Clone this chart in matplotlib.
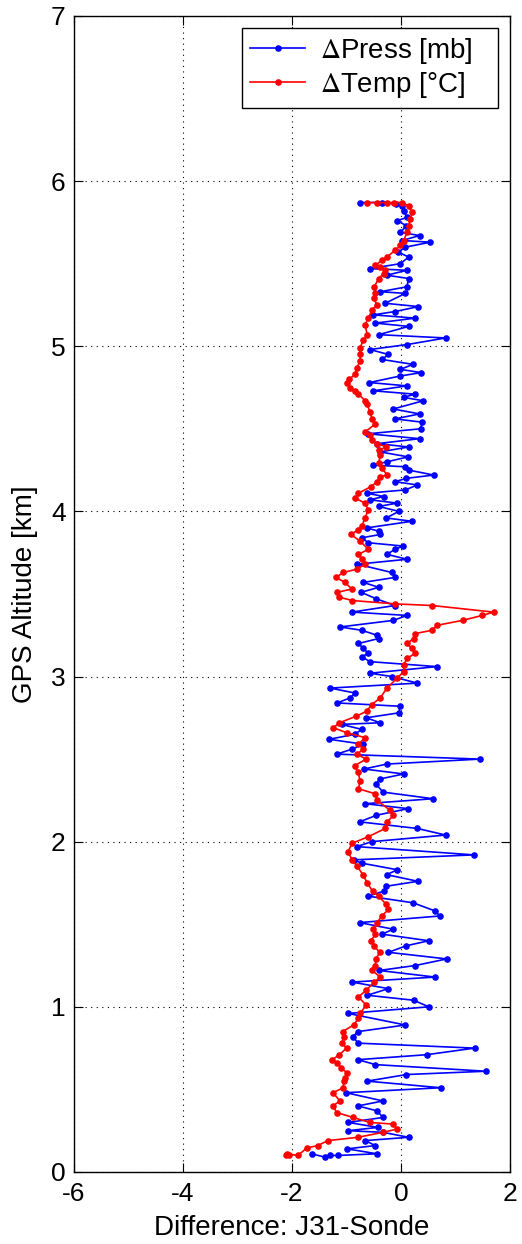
import matplotlib
matplotlib.use('Agg')
import matplotlib.pyplot as plt
import numpy as np

plt.rcParams['font.family'] = ['Liberation Sans', 'DejaVu Sans']
plt.rcParams['axes.unicode_minus'] = False
plt.rcParams['mathtext.fontset'] = 'stix'

# pressure difference (J31 - sonde), altitude km / difference mb
press_alt = [0.11, 0.09, 0.10, 0.10, 0.11, 0.14, 0.16, 0.19, 0.21, 0.24, 0.25, 0.27, 0.30, 0.33, 0.37,
             0.40, 0.43, 0.48, 0.51, 0.55, 0.59, 0.61, 0.65, 0.68, 0.71, 0.75, 0.78, 0.82, 0.85, 0.89,
             0.96, 1.00, 1.04, 1.07, 1.11, 1.15, 1.18, 1.22, 1.25, 1.29, 1.33, 1.37, 1.40, 1.44, 1.47,
             1.51, 1.55, 1.58, 1.63, 1.67, 1.70, 1.73, 1.76, 1.80, 1.83, 1.87, 1.89, 1.92, 1.97, 2.00,
             2.04, 2.08, 2.12, 2.16, 2.20, 2.23, 2.26, 2.30, 2.35, 2.38, 2.41, 2.44, 2.47, 2.50, 2.53,
             2.56, 2.59, 2.62, 2.65, 2.68, 2.71, 2.72, 2.75, 2.78, 2.82, 2.84, 2.87, 2.90, 2.93, 2.96,
             3.00, 3.02, 3.06, 3.09, 3.12, 3.14, 3.17, 3.20, 3.23, 3.25, 3.28, 3.30, 3.34, 3.37, 3.39,
             3.43, 3.47, 3.51, 3.54, 3.57, 3.60, 3.63, 3.68, 3.71, 3.74, 3.77, 3.79, 3.81, 3.84, 3.86,
             3.88, 3.90, 3.94, 3.96, 4.00, 4.03, 4.05, 4.07, 4.09, 4.11, 4.13, 4.16, 4.18, 4.20, 4.22,
             4.25, 4.27, 4.28, 4.30, 4.33, 4.36, 4.39, 4.41, 4.44, 4.47, 4.50, 4.54, 4.56, 4.59, 4.62,
             4.67, 4.69, 4.71, 4.73, 4.76, 4.78, 4.82, 4.84, 4.86, 4.89, 4.92, 4.95, 4.98, 5.01, 5.05,
             5.07, 5.12, 5.14, 5.17, 5.19, 5.21, 5.24, 5.26, 5.32, 5.33, 5.36, 5.41, 5.43, 5.46, 5.47,
             5.50, 5.54, 5.57, 5.60, 5.63, 5.64, 5.67, 5.69, 5.73, 5.76, 5.78, 5.82, 5.85, 5.86, 5.87,
             5.87]
press_diff = [-1.64, -1.40, -1.30, -1.16, -0.44, -0.99, -0.47, -0.66, 0.14, -0.33, -0.97, -0.42, -0.97, -0.33, -0.44,
              -0.79, -0.33, -1.01, 0.73, -0.62, 0.10, 1.56, -0.47, -0.79, 0.47, 1.35, -0.79, -0.88, -0.79, 0.08,
              -0.97, 0.51, 0.23, -0.62, -0.23, -0.90, 0.63, -0.40, 0.26, 0.84, -0.23, 0.10, 0.51, -0.35, -0.14,
              -0.76, 0.71, 0.63, 0.22, -0.60, -0.32, -0.27, 0.31, -0.26, -0.07, -0.72, -0.87, 1.34, -0.81, -0.54,
              0.82, 0.30, -0.76, -0.45, 0.13, -0.66, 0.59, -0.33, -0.46, -0.38, 0.05, -0.68, -0.26, 1.45, -1.18,
              -0.90, -0.69, -1.32, -0.85, -0.72, -1.09, -0.38, -0.64, -0.04, -0.02, -1.17, -0.94, -0.84, -1.30, 0.30,
              -0.17, -0.57, 0.66, -0.57, -0.72, -0.60, -0.69, -0.78, -0.41, -0.44, -0.72, -1.12, -0.14, 0.11, -0.90,
              -0.11, -0.45, -0.73, -0.41, -0.69, -0.11, -0.17, -0.80, 0.11, -0.26, -0.11, 0.04, -0.60, -0.72, -0.38,
              -0.41, -0.63, 0.20, -0.27, -0.04, -0.41, -0.07, -0.57, -0.32, -0.62, 0.08, 0.30, -0.11, 0.10, 0.60,
              0.14, 0.08, -0.52, -0.26, 0.13, -0.38, 0.14, -0.44, 0.34, -0.60, 0.36, 0.39, -0.11, 0.34, -0.14,
              0.41, 0.05, 0.25, -0.51, 0.11, -0.58, -0.01, 0.37, -0.01, 0.22, -0.35, -0.23, -0.57, 0.11, 0.82,
              -0.41, 0.14, -0.47, 0.26, -0.51, -0.11, 0.32, -0.29, 0.08, -0.38, 0.11, 0.14, -0.26, 0.11, -0.57,
              -0.01, 0.14, -0.05, 0.08, 0.54, 0.02, 0.34, -0.01, 0.10, -0.07, 0.11, 0.05, 0.02, -0.10, -0.35,
              -0.75]

# temperature difference (J31 - sonde), altitude km / difference degC
temp_alt = [0.10, 0.10, 0.11, 0.10, 0.145, 0.16, 0.19, 0.21, 0.24, 0.26, 0.29, 0.30, 0.33, 0.36, 0.40,
            0.43, 0.48, 0.51, 0.55, 0.57, 0.60, 0.63, 0.66, 0.68, 0.71, 0.75, 0.78, 0.82, 0.85, 0.89,
            0.93, 0.96, 1.01, 1.06, 1.10, 1.15, 1.18, 1.22, 1.25, 1.29, 1.33, 1.37, 1.40, 1.44, 1.47,
            1.51, 1.55, 1.59, 1.62, 1.67, 1.70, 1.75, 1.80, 1.85, 1.89, 1.94, 1.99, 2.03, 2.08, 2.12,
            2.16, 2.19, 2.25, 2.29, 2.32, 2.37, 2.42, 2.46, 2.50, 2.53, 2.56, 2.59, 2.63, 2.66, 2.69,
            2.72, 2.76, 2.79, 2.83, 2.87, 2.93, 2.99, 3.03, 3.07, 3.11, 3.14, 3.17, 3.20, 3.23, 3.26,
            3.28, 3.31, 3.34, 3.37, 3.39, 3.43, 3.44, 3.46, 3.48, 3.51, 3.53, 3.57, 3.60, 3.63, 3.65,
            3.68, 3.71, 3.74, 3.77, 3.82, 3.86, 3.89, 3.91, 3.96, 4.01, 4.05, 4.08, 4.11, 4.15, 4.18,
            4.21, 4.22, 4.26, 4.29, 4.34, 4.37, 4.39, 4.41, 4.43, 4.46, 4.48, 4.53, 4.56, 4.60, 4.65,
            4.67, 4.71, 4.73, 4.75, 4.78, 4.80, 4.83, 4.87, 4.91, 4.95, 4.99, 5.04, 5.07, 5.13, 5.17,
            5.22, 5.25, 5.29, 5.32, 5.36, 5.41, 5.44, 5.46, 5.48, 5.49, 5.52, 5.54, 5.58, 5.61, 5.64,
            5.69, 5.73, 5.77, 5.81, 5.85, 5.87, 5.87, 5.87, 5.87, 5.87]
temp_diff = [-2.11, -2.05, -2.09, -1.89, -1.73, -1.53, -1.34, -0.79, -0.33, -0.07, -0.15, -0.57, -0.88, -1.18, -1.25,
             -1.12, -1.25, -1.06, -1.05, -1.03, -0.99, -1.10, -1.18, -1.26, -1.13, -1.00, -1.09, -1.04, -1.07, -0.87,
             -0.78, -0.75, -0.64, -0.78, -0.64, -0.49, -0.38, -0.53, -0.47, -0.46, -0.39, -0.50, -0.55, -0.47, -0.51,
             -0.44, -0.35, -0.23, -0.27, -0.41, -0.52, -0.62, -0.70, -0.80, -0.90, -0.97, -0.90, -0.60, -0.29, -0.25,
             -0.14, -0.20, -0.44, -0.47, -0.78, -0.75, -0.79, -0.85, -0.64, -0.81, -0.69, -0.78, -0.66, -1.00, -1.24,
             -1.13, -0.82, -0.63, -0.54, -0.38, -0.26, -0.07, 0.05, 0.05, 0.11, 0.26, 0.20, 0.11, 0.23, 0.26,
             0.57, 0.66, 1.13, 1.49, 1.70, 0.57, -0.11, -0.89, -1.13, -1.17, -0.90, -1.03, -1.19, -1.06, -0.81,
             -0.66, -0.72, -0.78, -0.60, -0.75, -0.92, -0.78, -0.72, -0.66, -0.60, -0.66, -0.84, -0.78, -0.55, -0.44,
             -0.38, -0.25, -0.35, -0.41, -0.38, -0.41, -0.27, -0.44, -0.53, -0.57, -0.66, -0.47, -0.53, -0.57, -0.62,
             -0.66, -0.78, -0.84, -0.94, -1.00, -0.95, -0.84, -0.81, -0.75, -0.75, -0.75, -0.69, -0.62, -0.66, -0.60,
             -0.53, -0.44, -0.50, -0.47, -0.49, -0.41, -0.32, -0.30, -0.38, -0.47, -0.35, -0.26, -0.11, -0.01, 0.05,
             0.11, 0.14, 0.17, 0.20, 0.14, 0.02, -0.12, -0.26, -0.44, -0.63]

fig = plt.figure(figsize=(5.22, 12.44), dpi=100)
ax = fig.add_axes([0.1418, 0.0579, 0.8352, 0.9293])

# trailing spaces give the legend box its wide right margin
ax.plot(press_diff, press_alt, '.-', color='blue', lw=1.2, ms=7.5, label='$\\Delta$Press [mb]   ')
ax.plot(temp_diff, temp_alt, '.-', color='red', lw=1.2, ms=7.5, label='$\\Delta$Temp [\u00b0C]   ')

ax.set_xlim(-6, 2)
ax.set_ylim(0, 7)
ax.set_xticks([-6, -4, -2, 0, 2])
ax.set_yticks(range(0, 8))
ax.grid(True, color='black', linestyle=(0, (1, 4)), linewidth=0.8)
ax.tick_params(direction='in', top=True, right=True, labelsize=19, length=6.5)
ax.tick_params(axis='x', pad=7)
ax.tick_params(axis='y', pad=6)
for s in ax.spines.values():
    s.set_linewidth(1)

ax.set_xlabel('Difference: J31-Sonde', fontsize=20, labelpad=7)
ax.set_ylabel('GPS Altitude [km]', fontsize=20, labelpad=9)

leg = ax.legend(loc='upper right', fontsize=20, fancybox=False, framealpha=1,
                edgecolor='black', borderaxespad=0.42, borderpad=0.3,
                handlelength=1.95, handletextpad=0.55, labelspacing=0.15)
leg.get_frame().set_linewidth(1)

fig.savefig('out.png', dpi=100)
plt.close()
